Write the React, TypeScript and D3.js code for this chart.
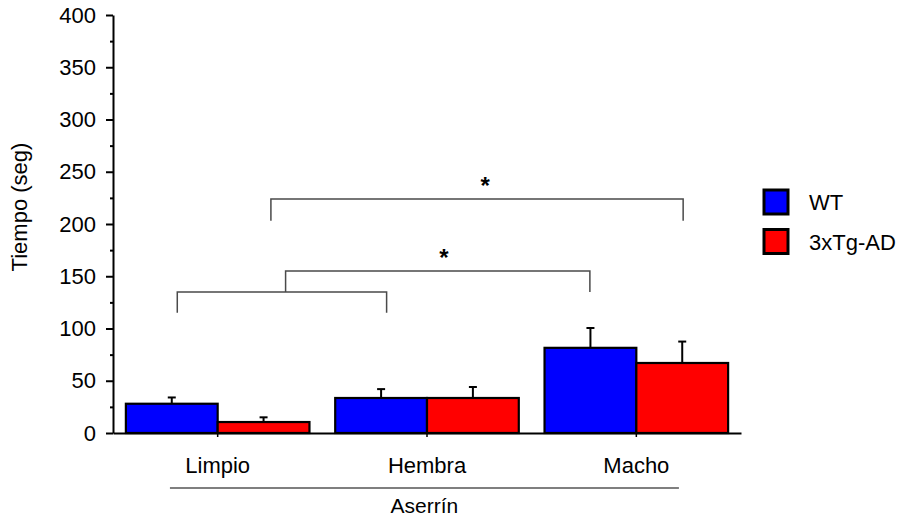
import React, { useEffect, useRef } from "react";
import * as d3 from "d3";

// data
const categories = ["Limpio", "Hembra", "Macho"];
const series = ["WT", "3xTg-AD"];
const seriesColors = ["#0000ff", "#ff0000"];
const wtMeans = [28, 33.5, 81.5];
const wtErrors = [6, 8.5, 19];
const tgMeans = [10.5, 33.5, 67];
const tgErrors = [4.5, 10.5, 20.5];
const yTicks = [0, 50, 100, 150, 200, 250, 300, 350, 400];
const yMinorTicks = [25, 75, 125, 175, 225, 275, 325, 375];
const groupLabel = "Aserrín";
const yLabel = "Tiempo (seg)";

// significance brackets: [category, fraction of band] at each end, bar height and leg height
const brackets = [
  { from: ["Limpio", 0.28], to: ["Hembra", 0.28], top: 135, leg: 115, star: null },
  { from: ["Limpio", 0.87], to: ["Macho", 0.247], top: 155, leg: 135, star: 172.5 },
  { from: ["Limpio", 0.79], to: ["Macho", 0.755], top: 224, leg: 203, star: 241.5 },
];

const FONT = "'Liberation Sans', Arial, Helvetica, sans-serif";

export default function App() {
  const ref = useRef<SVGSVGElement>(null);

  useEffect(() => {
    document.body.style.margin = "0";
    const svg = d3.select(ref.current);
    svg.selectAll("*").remove();

    const x = d3
      .scaleBand()
      .domain(categories)
      .range([113, 741])
      .paddingInner(0.123)
      .paddingOuter(0.0615);
    const xs = d3.scaleBand().domain(series).range([0, x.bandwidth()]);
    const y = d3.scaleLinear().domain([0, 400]).range([433, 15]);
    const bw = x.bandwidth();

    const rows = categories.map((c, i) => [
      { cat: c, s: series[0], v: wtMeans[i], e: wtErrors[i], color: seriesColors[0] },
      { cat: c, s: series[1], v: tgMeans[i], e: tgErrors[i], color: seriesColors[1] },
    ]).flat();

    // error bars (upper only)
    const err = svg.append("g");
    rows.forEach((d) => {
      const cx = x(d.cat)! + xs(d.s)! + xs.bandwidth() / 2;
      err.append("line")
        .attr("x1", cx).attr("x2", cx)
        .attr("y1", y(d.v)).attr("y2", y(d.v + d.e))
        .attr("stroke", "#000").attr("stroke-width", 2);
      err.append("line")
        .attr("x1", cx - 4).attr("x2", cx + 4)
        .attr("y1", y(d.v + d.e)).attr("y2", y(d.v + d.e))
        .attr("stroke", "#000").attr("stroke-width", 2);
    });

    // bars
    svg.append("g")
      .selectAll("rect")
      .data(rows)
      .enter().append("rect")
      .attr("x", (d) => x(d.cat)! + xs(d.s)!)
      .attr("y", (d) => y(d.v))
      .attr("width", xs.bandwidth())
      .attr("height", (d) => y(0) - y(d.v))
      .attr("fill", (d) => d.color)
      .attr("stroke", "#000")
      .attr("stroke-width", 2.2);

    // y axis
    const yAxis = svg.append("g")
      .attr("transform", "translate(113,0)")
      .call(d3.axisLeft(y).tickValues(yTicks).tickSize(7).tickPadding(10).tickSizeOuter(0));
    yAxis.select(".domain").attr("stroke-width", 2);
    yAxis.selectAll(".tick line").attr("stroke-width", 2);
    yAxis.selectAll("text").attr("font-family", FONT).attr("font-size", 22).attr("fill", "#000");

    const yMinor = svg.append("g")
      .attr("transform", "translate(113,0)")
      .call(d3.axisLeft(y).tickValues(yMinorTicks).tickSize(3).tickFormat(() => ""));
    yMinor.select(".domain").remove();
    yMinor.selectAll(".tick line").attr("stroke-width", 2);

    // x axis
    const xAxis = svg.append("g")
      .attr("transform", "translate(0," + y(0) + ")")
      .call(d3.axisBottom(x).tickSize(4).tickPadding(20).tickSizeOuter(0));
    xAxis.select(".domain").attr("stroke-width", 2);
    xAxis.selectAll(".tick line").attr("stroke-width", 1.5);
    xAxis.selectAll("text").attr("font-family", FONT).attr("font-size", 22).attr("fill", "#000");

    // group line + label
    const gx1 = x(categories[0])! + 0.24 * bw;
    const gx2 = x(categories[2])! + 0.732 * bw;
    svg.append("line")
      .attr("x1", gx1).attr("x2", gx2)
      .attr("y1", 488).attr("y2", 488)
      .attr("stroke", "#555").attr("stroke-width", 1.5);
    svg.append("text")
      .attr("x", (gx1 + gx2) / 2).attr("y", 513)
      .attr("text-anchor", "middle")
      .attr("font-family", FONT).attr("font-size", 21)
      .text(groupLabel);

    // y label
    svg.append("text")
      .attr("transform", "translate(27,207) rotate(-90)")
      .attr("text-anchor", "middle")
      .attr("font-family", FONT).attr("font-size", 22)
      .text(yLabel);

    // brackets
    brackets.forEach((b) => {
      const x1 = x(b.from[0] as string)! + (b.from[1] as number) * bw;
      const x2 = x(b.to[0] as string)! + (b.to[1] as number) * bw;
      svg.append("path")
        .attr("d", `M${x1},${y(b.leg)}V${y(b.top)}H${x2}V${y(b.leg)}`)
        .attr("fill", "none")
        .attr("stroke", "#4a4a4a")
        .attr("stroke-width", 1.5);
      if (b.star !== null) {
        svg.append("text")
          .attr("x", x1 + (x2 - x1) * 0.52)
          .attr("y", y(b.star) + 13)
          .attr("text-anchor", "middle")
          .attr("font-family", FONT).attr("font-size", 24)
          .attr("font-weight", "bold")
          .text("*");
      }
    });

    // legend
    series.forEach((s, i) => {
      const ly = 190 + i * 39.5;
      svg.append("rect")
        .attr("x", 764).attr("y", ly)
        .attr("width", 24).attr("height", 24)
        .attr("fill", seriesColors[i])
        .attr("stroke", "#000").attr("stroke-width", 3);
      svg.append("text")
        .attr("x", 809).attr("y", ly + 20)
        .attr("font-family", FONT).attr("font-size", 22)
        .text(s);
    });
  }, []);

  return <svg ref={ref} width={906} height={519} style={{ display: "block" }} />;
}
